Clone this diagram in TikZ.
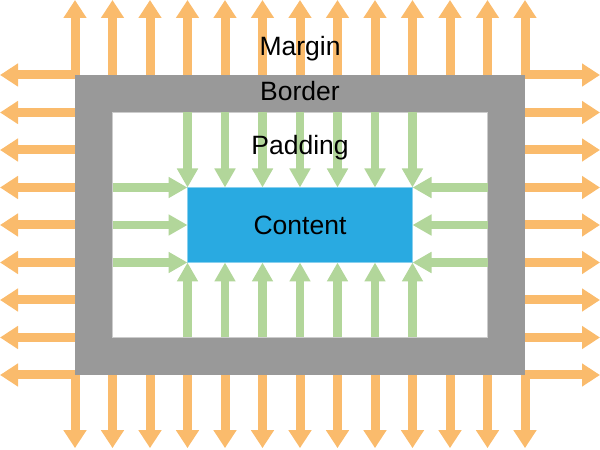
\documentclass[tikz,border=0pt]{standalone}
\usepackage{fontspec}
\setmainfont{Liberation Sans}
\usetikzlibrary{arrows.meta}
\definecolor{margorange}{RGB}{250,187,108}
\definecolor{padgreen}{RGB}{178,214,154}
\definecolor{bordergray}{RGB}{153,153,153}
\definecolor{contentblue}{RGB}{41,170,225}
\begin{document}
\begin{tikzpicture}[x=37.5pt,y=37.5pt,font=\fontsize{26.5}{31}\selectfont,
  margarrow/.style={draw=margorange,line width=9pt,-{Triangle[width=22pt,length=18pt]}},
  padarrow/.style={draw=padgreen,line width=8.5pt,-{Triangle[width=20pt,length=19pt]}},
  box/.style={inner sep=0pt,outer sep=0pt}]
\useasboundingbox (0,0) rectangle (16,12);
\node[box,fill=bordergray,minimum width=450pt,minimum height=300pt] (border) at (8,6) {};
\node[box,fill=white,draw=black!20,line width=0.8pt,minimum width=375pt,minimum height=225pt] (padbox) at (8,6) {};
% margin
\foreach \i in {0,...,12} {
  \draw[margarrow] ([xshift=\i*37.5pt]border.north west) -- ++(0,2);
  \draw[margarrow] ([xshift=\i*37.5pt]border.south west) -- ++(0,-1.95);
}
\foreach \j in {0,...,8} {
  \draw[margarrow] ([yshift=-\j*37.5pt]border.north west) -- ++(-2,0);
  \draw[margarrow] ([yshift=-\j*37.5pt]border.north east) -- ++(2,0);
}
% padding
\node[box,fill=contentblue,draw=contentblue!55!white,line width=0.6pt,minimum width=225pt,minimum height=75pt] (content) at (8,6) {Content};
\foreach \i in {0,...,6} {
  \draw[padarrow] ([xshift=\i*37.5pt]content.north west |- padbox.north) -- ([xshift=\i*37.5pt]content.north west);
  \draw[padarrow] ([xshift=\i*37.5pt]content.south west |- padbox.south) -- ([xshift=\i*37.5pt]content.south west);
}
\foreach \j in {0,1,2} {
  \draw[padarrow] ([yshift=-\j*37.5pt]content.north west -| padbox.west) -- ([yshift=-\j*37.5pt]content.north west);
  \draw[padarrow] ([yshift=-\j*37.5pt]content.north east -| padbox.east) -- ([yshift=-\j*37.5pt]content.north east);
}
\node[anchor=base] (marglabel) at ([yshift=19.3pt]border.north) {Margin};
\node[anchor=base] (borderlabel) at ([yshift=-26pt]border.north) {Border};
\node[anchor=base] (padlabel) at ([yshift=-41.8pt]padbox.north) {Padding};
\end{tikzpicture}
\end{document}
